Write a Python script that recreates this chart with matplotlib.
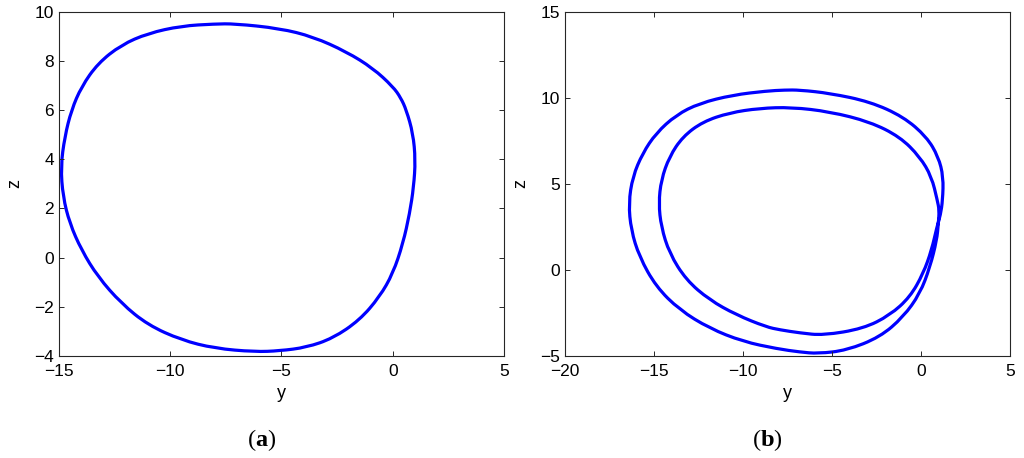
import matplotlib
matplotlib.use('Agg')
import matplotlib.pyplot as plt
from matplotlib.path import Path
from matplotlib.patches import PathPatch

# panel (a): period-1 orbit (y, z)
y_a = [-7.10, -5.08, -3.58, -2.08, -0.89, 0.01, 0.36, 0.61, 0.91, 1.02, 0.94, 0.76,
       0.46, 0.01, -0.59, -1.49, -2.69, -3.88, -5.08, -6.20, -8.00, -9.50, -11.00,
       -12.20, -13.25, -13.99, -14.52, -14.82, -14.92, -14.74, -14.44, -13.99,
       -13.25, -12.20, -11.00, -9.50, -8.00]
z_a = [9.51, 9.32, 8.98, 8.37, 7.70, 6.95, 6.50, 6.00, 5.05, 3.97, 2.88, 1.80,
       0.58, -0.64, -1.59, -2.54, -3.28, -3.65, -3.79, -3.83, -3.69, -3.35, -2.74,
       -1.86, -0.78, 0.31, 1.40, 2.48, 3.70, 4.92, 6.00, 6.95,
       7.90, 8.65, 9.12, 9.42, 9.50]

# panel (b): period-2 orbit, outer top -> inner loop -> outer bottom -> back
y_b = [-6.83, -5.13, -2.88, -1.01, 0.30, 0.96, 1.24, 1.20, 1.08, 0.88, 0.58, 0.11,
       -0.63, -1.76, -3.26, -5.51, -6.81, -7.94, -8.71, -10.39, -11.90, -13.21, -14.15,
       -14.61, -14.75, -14.61, -14.15, -13.40, -12.27, -10.77, -9.08, -7.30, -5.13,
       -2.88, -1.20, -0.08, 0.58, 0.90, 1.01, 0.96, 0.87, 0.49, -0.07, -1.01, -2.32,
       -4.19, -5.80, -6.81, -8.10, -10.02, -11.90, -13.58, -14.90, -15.84, -16.30, -16.44,
       -16.21, -15.65, -14.90, -13.77, -12.46, -10.59, -8.71, -7.66]
z_b = [10.45, 10.26, 9.77, 8.90, 7.73, 6.57, 5.41, 4.05, 3.20, 2.50, 1.15, -0.21,
       -1.57, -2.63, -3.41, -3.80, -3.66, -3.48, -3.31, -2.61, -1.74, -0.58, 0.97,
       2.51, 3.87, 5.23, 6.58, 7.74, 8.61, 9.13, 9.39, 9.45, 9.19,
       8.60, 7.73, 6.57, 5.41, 4.05, 3.47, 2.70, 1.73, 0.17, -1.37, -2.73, -3.90,
       -4.67, -4.86, -4.77, -4.58, -4.16, -3.39, -2.32, -0.97, 0.77, 2.32, 3.87,
       5.42, 6.78, 7.94, 9.00, 9.68, 10.16, 10.39, 10.45]

xlim_a, ylim_a = (-15, 5), (-4, 10)
xticks_a = [-15, -10, -5, 0, 5]
yticks_a = [-4, -2, 0, 2, 4, 6, 8, 10]
xlim_b, ylim_b = (-20, 5), (-5, 15)
xticks_b = [-20, -15, -10, -5, 0, 5]
yticks_b = [-5, 0, 5, 10, 15]

plt.rcParams['font.family'] = ['Liberation Sans', 'DejaVu Sans']
plt.rcParams['mathtext.fontset'] = 'custom'
plt.rcParams['mathtext.rm'] = 'Liberation Serif'
plt.rcParams['mathtext.bf'] = 'Liberation Serif:bold'


def closed_curve(ys, zs):
    # smooth closed path, the read points act as quadratic control points
    pts = list(zip(ys, zs))
    n = len(pts)
    mid = lambda p, q: ((p[0] + q[0]) / 2, (p[1] + q[1]) / 2)
    verts = [mid(pts[0], pts[1])]
    codes = [Path.MOVETO]
    for i in range(1, n + 1):
        verts += [pts[i % n], mid(pts[i % n], pts[(i + 1) % n])]
        codes += [Path.CURVE3, Path.CURVE3]
    return Path(verts, codes)


fig = plt.figure(figsize=(10.24, 4.58), dpi=100)
ax1 = fig.add_axes([0.0576, 0.2227, 0.4346, 0.7518])
ax2 = fig.add_axes([0.552, 0.2227, 0.4346, 0.7518])

panels = [(ax1, y_a, z_a, xlim_a, ylim_a, xticks_a, yticks_a, 'a', 0.2559),
          (ax2, y_b, z_b, xlim_b, ylim_b, xticks_b, yticks_b, 'b', 0.749)]

for ax, ys, zs, xl, yl, xt, yt, letter, cx in panels:
    ax.add_patch(PathPatch(closed_curve(ys, zs), facecolor='none',
                           edgecolor='#0000ff', lw=2.3))
    ax.set_xlim(*xl)
    ax.set_ylim(*yl)
    ax.set_xticks(xt)
    ax.set_yticks(yt)
    ax.tick_params(direction='in', length=3.6, width=0.7, top=True, right=True,
                   labelsize=12.5, colors='#262626', labelcolor='black')
    ax.tick_params(axis='x', pad=6)
    ax.tick_params(axis='y', pad=3.5)
    for s in ax.spines.values():
        s.set_linewidth(0.8)
        s.set_color('#262626')
    ax.set_xlabel('y', fontsize=13, labelpad=4)
    ax.set_ylabel('z', fontsize=13, labelpad=8)
    fig.text(cx, 1 - 440 / 458, r'$(\mathbf{' + letter + r'})$',
             ha='center', va='center', fontsize=17.5)

fig.savefig('out.png', dpi=100)
